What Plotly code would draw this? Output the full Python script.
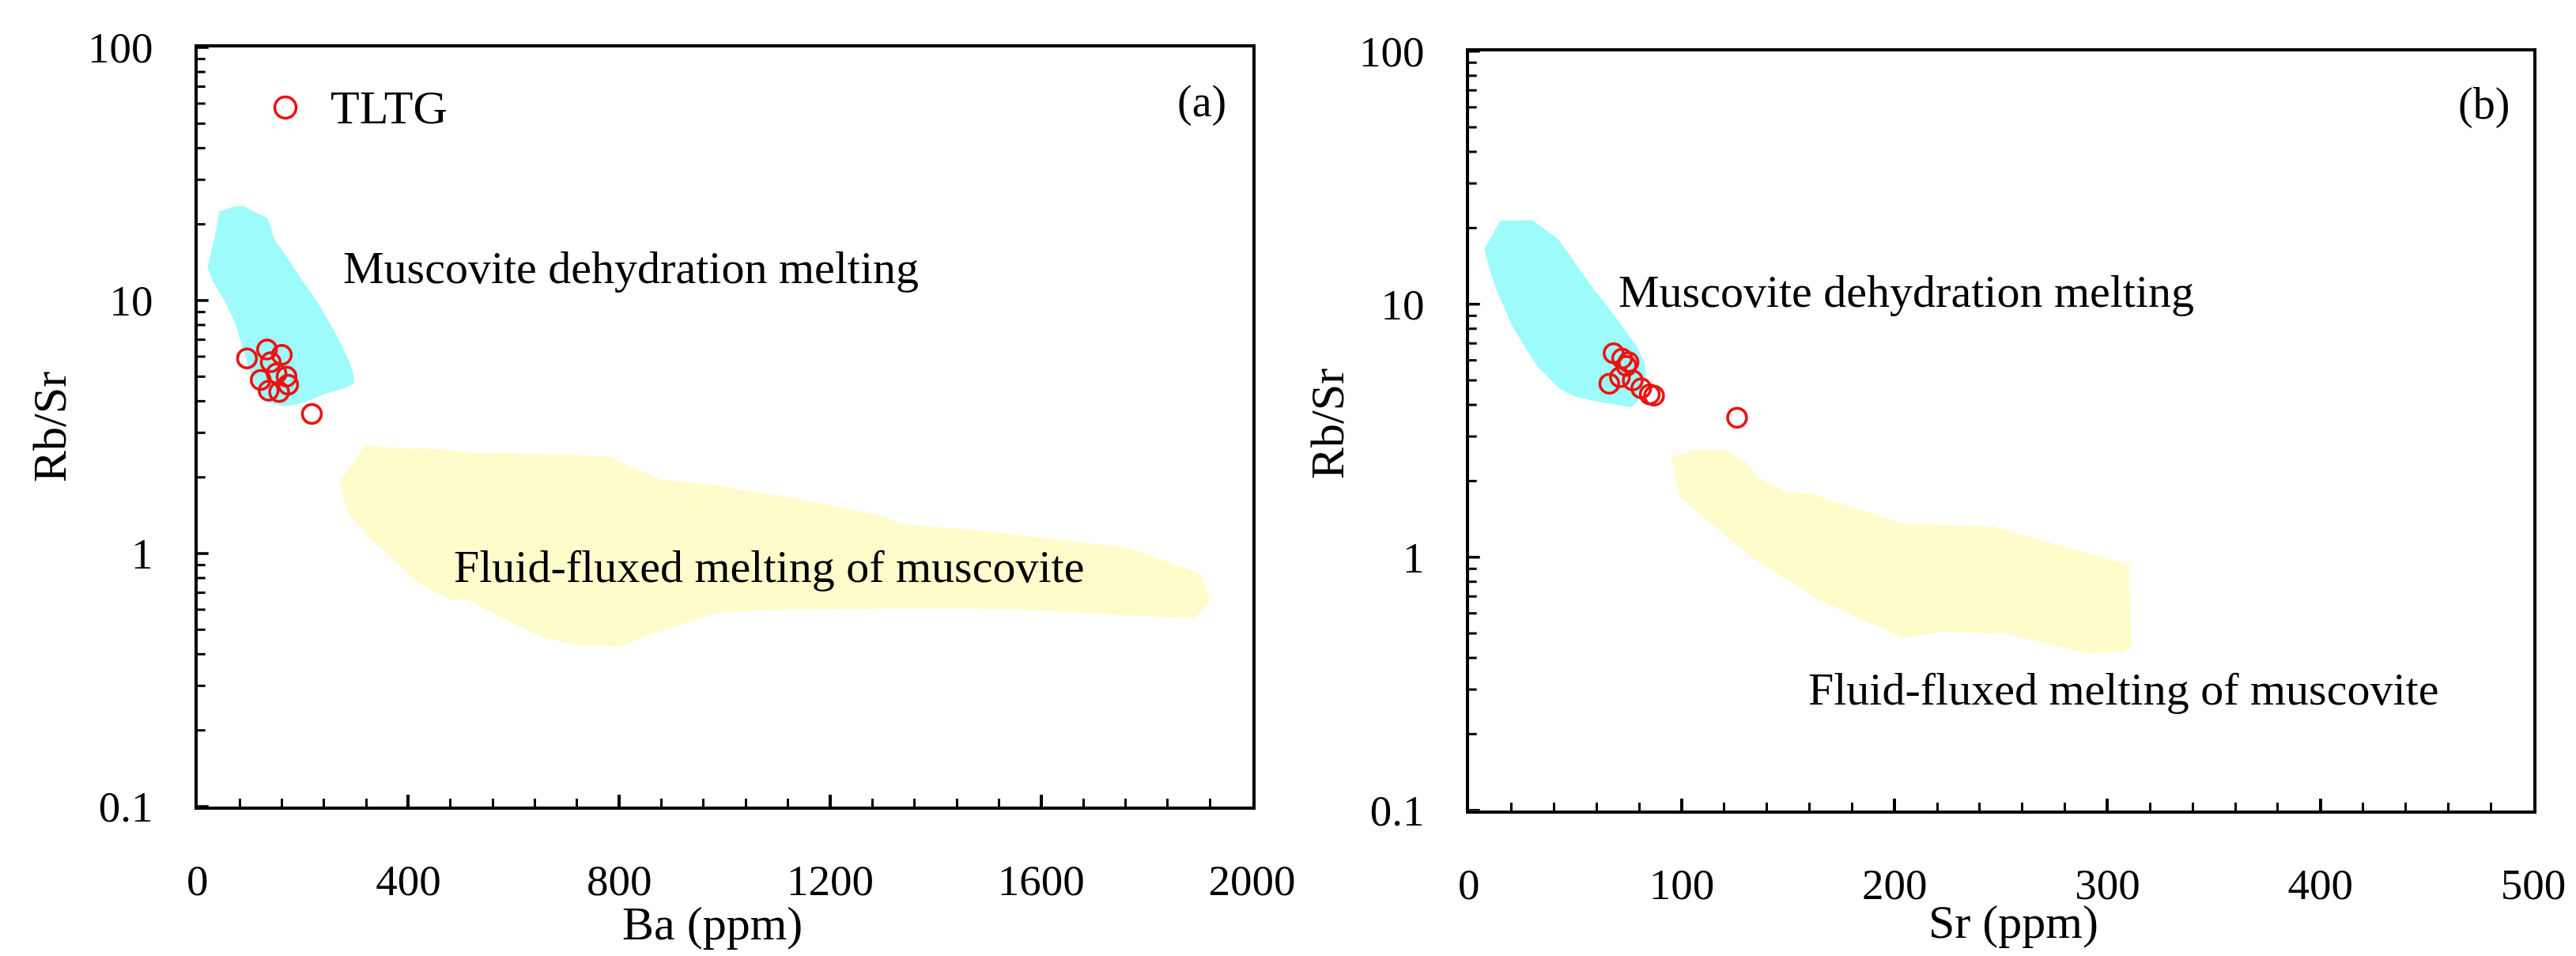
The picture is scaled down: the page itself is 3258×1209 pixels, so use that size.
import math
import plotly.graph_objects as go
from plotly.subplots import make_subplots

# TLTG samples
tltg_rbsr = [6.4, 6.1, 5.9, 5.7, 5.15, 5.0, 4.85, 4.65, 4.4, 4.35, 3.56]
tltg_ba = [132, 160, 94, 139, 150, 169, 120, 172, 135, 155, 217]
tltg_sr = [68, 72, 75, 74, 71, 77, 66, 81, 85, 87, 126]

# fields, panel (a): Ba vs Rb/Sr
musc_a_ba = [42, 72, 87, 112, 132, 139, 147, 162, 191, 226, 261, 286, 296, 296,
             281, 241, 211, 181, 162, 132, 106, 87, 72, 53, 32, 20, 27, 35]
musc_a_rbsr = [22.4, 23.5, 23.5, 22.1, 21.1, 19.4, 17.1, 15.6, 12.6, 9.93, 7.44, 5.83, 5.05, 4.7,
               4.53, 4.28, 4.04, 3.87, 3.84, 3.98, 4.83, 6.45, 8.18, 9.93, 11.7, 13.5, 15.6, 18.4]
flux_a_ba = [318, 352, 467, 524, 696, 782, 822, 880, 983, 1077, 1192, 1306, 1335, 1479,
             1651, 1765, 1903, 1920, 1892, 1765, 1593, 1479, 1306, 1077, 983, 862, 800,
             713, 650, 558, 513, 478, 415, 329, 289, 269]
flux_a_rbsr = [2.68, 2.62, 2.57, 2.49, 2.46, 2.40, 2.19, 1.95, 1.86, 1.72, 1.56, 1.39, 1.30, 1.23,
               1.12, 1.05, 0.828, 0.65, 0.557, 0.571, 0.599, 0.608, 0.608, 0.599, 0.585, 0.482, 0.428,
               0.438, 0.471, 0.585, 0.659, 0.659, 0.779, 1.146, 1.42, 1.89]

# fields, panel (b): Sr vs Rb/Sr
musc_b_sr = [7.4, 14.9, 29.7, 32.8, 41.5, 47.7, 56.4, 65.1, 72.5, 78.7, 82.4, 83,
             81, 76.2, 61.3, 50.2, 42.8, 32.8, 27.9, 20.4, 13, 10.5]
musc_b_rbsr = [16.5, 21.3, 21.4, 20.5, 18.2, 15.4, 12.1, 9.77, 8.06, 6.81, 5.9, 5.1,
               4.27, 3.93, 4.12, 4.32, 4.64, 5.62, 6.49, 8.26, 11.5, 13.3]
flux_b_sr = [95.5, 106, 120, 130, 136, 149, 160, 204, 246, 270, 310, 311,
             308, 291, 253, 223, 204, 164.5, 133, 99]
flux_b_rbsr = [2.49, 2.64, 2.64, 2.37, 2.05, 1.80, 1.78, 1.35, 1.32, 1.155, 0.93, 0.44,
               0.427, 0.417, 0.499, 0.511, 0.481, 0.681, 1.0, 1.74]

# log axis ticks: labelled decades plus unlabelled 2..9
y_decades = [0.1, 1, 10, 100]
y_decade_text = ["0.1", "1", "10", "100"]

FONT = "Liberation Serif, Times New Roman, serif"
RED = "#ee1111"
CYAN = "#9dfbfb"
YELLOW = "#fffccc"
W, H = 3258, 1209
PAD = "\u00a0" * 3  # gap between y tick labels and the axis

fig = make_subplots(rows=1, cols=2)

def field(x, y, fill, col):
    fig.add_trace(go.Scatter(x=x + x[:1], y=y + y[:1], mode="lines", fill="toself",
                             fillcolor=fill, line=dict(color=fill, width=1),
                             hoverinfo="skip", showlegend=False), row=1, col=col)

field(musc_a_ba, musc_a_rbsr, CYAN, 1)
field(flux_a_ba, flux_a_rbsr, YELLOW, 1)
field(musc_b_sr, musc_b_rbsr, CYAN, 2)
field(flux_b_sr, flux_b_rbsr, YELLOW, 2)

for xs, col in [(tltg_ba, 1), (tltg_sr, 2)]:
    fig.add_trace(go.Scatter(x=xs, y=tltg_rbsr, mode="markers", name="TLTG",
                             marker=dict(symbol="circle-open", size=24, color=RED,
                                         line=dict(width=3.5, color=RED)),
                             showlegend=False), row=1, col=col)

axis_common = dict(showline=True, linewidth=4, linecolor="black", mirror=True,
                   showgrid=False, zeroline=False, automargin=False,
                   tickfont=dict(family=FONT, size=55, color="black"))

fig.update_xaxes(axis_common)
fig.update_yaxes(axis_common)

fig.update_xaxes(ticks="inside", tickwidth=3.5, tickcolor="black", ticklen=15,
                 ticklabelstandoff=42, tick0=0)
fig.update_xaxes(range=[0, 2000], dtick=400,
                 minor=dict(dtick=80, ticks="inside", ticklen=10, tickwidth=3, tickcolor="black"),
                 domain=[241.7 / W, 1575.5 / W], row=1, col=1)
fig.update_xaxes(range=[0, 500], dtick=100,
                 minor=dict(dtick=20, ticks="inside", ticklen=10, tickwidth=3, tickcolor="black"),
                 domain=[1849.7 / W, 3196 / W], row=1, col=2)

tickvals, ticktext = [], []
for d, t in zip(y_decades, y_decade_text):
    tickvals.append(d)
    ticktext.append(t + PAD)
    if d < 100:
        for m in range(2, 10):
            tickvals.append(m * d)
            ticktext.append("")

fig.update_yaxes(type="log", range=[-1, 2], tickmode="array", tickvals=tickvals,
                 ticktext=ticktext, ticks="")
fig.update_yaxes(domain=[(H - 1012) / H, (H - 52) / H], row=1, col=1)
fig.update_yaxes(domain=[(H - 1016.7) / H, (H - 56.7) / H], row=1, col=2)

# inward log tick marks drawn along each left axis (shape y is in data units)
for xref, yref, plot_w in [("x domain", "y", 1575.5 - 241.7), ("x2 domain", "y2", 3196 - 1849.7)]:
    for v in tickvals:
        major = v in y_decades
        length = 14 if major else 10
        fig.add_shape(type="line", xref=xref, yref=yref, x0=0, x1=length / plot_w,
                      y0=v, y1=v, line=dict(color="black", width=3.5 if major else 3))

def label(text, x, y, xref, yref, size=58, xanchor="left", angle=0):
    fig.add_annotation(text=text, x=x, y=y, xref=xref, yref=yref, showarrow=False,
                       xanchor=xanchor, yanchor="middle", textangle=angle,
                       font=dict(family=FONT, size=size, color="black"))

# field names
label("Muscovite dehydration melting", 274, math.log10(13.5), "x", "y")
label("Fluid-fluxed melting of muscovite", 484, math.log10(0.89), "x", "y")
label("Muscovite dehydration melting", 69.7, math.log10(11.2), "x2", "y2")
label("Fluid-fluxed melting of muscovite", 158.7, math.log10(0.302), "x2", "y2")

# panel tags
label("(a)", 1512 / W, (H - 120) / H, "paper", "paper", size=56, xanchor="center")
label("(b)", 3133 / W, (H - 124) / H, "paper", "paper", size=56, xanchor="center")

# axis titles
label("Rb/Sr", 55 / W, (H - 532) / H, "paper", "paper", size=60, xanchor="center", angle=-90)
label("Ba (ppm)", 893 / W, (H - 1160) / H, "paper", "paper", size=60, xanchor="center")
label("Rb/Sr", 1671 / W, (H - 528) / H, "paper", "paper", size=60, xanchor="center", angle=-90)
label("Sr (ppm)", 2538 / W, (H - 1158) / H, "paper", "paper", size=60, xanchor="center")

# legend key
r = 13.5
fig.add_shape(type="circle", xref="paper", yref="paper",
              x0=(353 - r) / W, x1=(353 + r) / W,
              y0=(H - 128 - r) / H, y1=(H - 128 + r) / H,
              line=dict(color=RED, width=3.5))
label("TLTG", 408 / W, (H - 128) / H, "paper", "paper", size=60)

fig.update_layout(width=W, height=H, margin=dict(l=0, r=0, t=0, b=0),
                  paper_bgcolor="white", plot_bgcolor="white", showlegend=False,
                  font=dict(family=FONT, color="black"))

fig.write_html("out.html")
